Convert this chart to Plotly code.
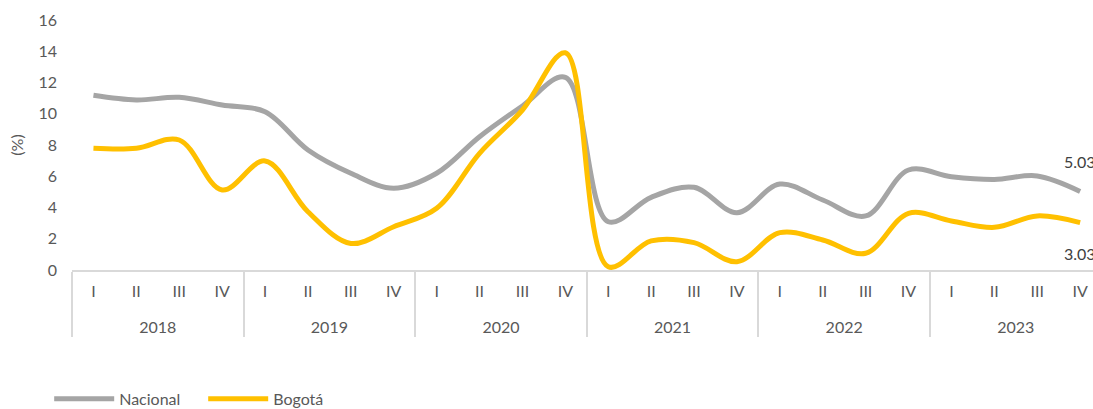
import plotly.graph_objects as go

years = ["2018", "2019", "2020", "2021", "2022", "2023"]
quarters = ["I", "II", "III", "IV"]

nacional = [11.18, 10.88, 11.05, 10.56, 10.13, 7.68, 6.19, 5.23,
            6.19, 8.53, 10.5, 12.33, 3.09, 4.65, 5.29, 3.67,
            5.5, 4.48, 3.46, 6.4, 5.97, 5.8, 6.02, 5.03]
bogota = [7.79, 7.79, 8.32, 5.12, 6.98, 3.73, 1.7, 2.77,
          3.95, 7.47, 10.24, 13.9, 0.21, 1.86, 1.75, 0.53,
          2.39, 1.92, 1.07, 3.63, 3.14, 2.73, 3.46, 3.03]

x_year = [y for y in years for q in quarters]
# extra blank line under each quarter label widens the gap to the year row
x_q = [q + "<br>\u00a0" for y in years for q in quarters]

FONT = "Lato"
TXT = "#595959"
GRID = "#D9D9D9"

fig = go.Figure()
fig.add_trace(go.Scatter(x=[x_year, x_q], y=nacional, name="Nacional", mode="lines",
                         line=dict(color="#A5A5A5", width=5, shape="spline", smoothing=1)))
fig.add_trace(go.Scatter(x=[x_year, x_q], y=bogota, name="Bogotá", mode="lines",
                         line=dict(color="#FFC000", width=5, shape="spline", smoothing=1)))

fig.add_annotation(x=len(nacional) - 1, y=nacional[-1], xref="x", yref="y",
                   text=f"{nacional[-1]:.2f}", showarrow=False, yshift=30,
                   font=dict(family=FONT, size=16, color="#404040"))
fig.add_annotation(x=len(bogota) - 1, y=bogota[-1], xref="x", yref="y",
                   text=f"{bogota[-1]:.2f}", showarrow=False, yshift=-31,
                   font=dict(family=FONT, size=16, color="#404040"))

fig.update_layout(
    width=1093, height=409,
    margin=dict(l=72, r=0, t=20, b=139),
    paper_bgcolor="white", plot_bgcolor="white",
    font=dict(family=FONT, size=16, color=TXT),
    showlegend=True,
    legend=dict(orientation="h", xref="container", yref="container",
                x=0.045, y=0.025, xanchor="left", yanchor="middle",
                font=dict(family=FONT, size=16, color=TXT), itemwidth=60,
                entrywidth=79),
    xaxis=dict(type="multicategory", range=[-0.5, 23.3],
               showline=True, linecolor=GRID, linewidth=2,
               showdividers=True, dividercolor=GRID, dividerwidth=2,
               showgrid=False, zeroline=False, ticklabelstandoff=6,
               tickfont=dict(family=FONT, size=16, color=TXT)),
    yaxis=dict(range=[0, 16], dtick=2, showgrid=False, zeroline=False, showline=False,
               ticklabelstandoff=14,
               tickfont=dict(family=FONT, size=16, color=TXT),
               title=dict(text="(%)", font=dict(family=FONT, size=16, color=TXT), standoff=10)),
)

fig.write_html("out.html")
